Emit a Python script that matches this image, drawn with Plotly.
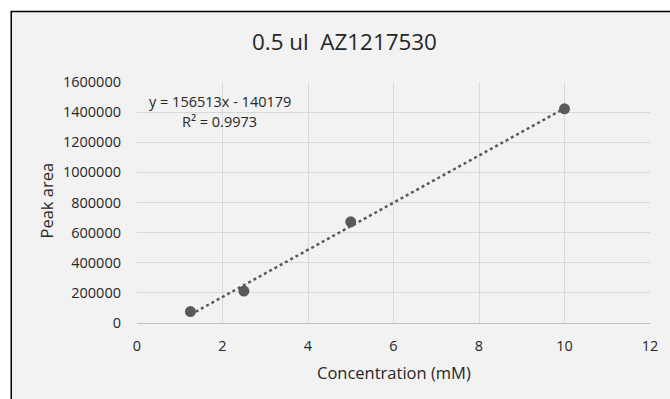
import plotly.graph_objects as go

# Data
conc = [1.25, 2.5, 5, 10]
peak_area = [76000, 212000, 672000, 1422000]
slope = 156513
intercept = -140179
r2 = 0.9973
x_ticks = [0, 2, 4, 6, 8, 10, 12]
y_ticks = [0, 200000, 400000, 600000, 800000, 1000000, 1200000, 1400000, 1600000]

FONT = "Open Sans"
TXT = "#262626"

L, R, T, B = 137, 17, 82, 76
W, H = 670, 399
pw = W - L - R
ph = H - T - B

def px(xp):
    return (xp - L) / pw

def py(yp):
    return (H - B - yp) / ph

trend_x = [min(conc), max(conc)]
trend_y = [slope * v + intercept for v in trend_x]

fig = go.Figure()
fig.add_trace(go.Scatter(x=trend_x, y=trend_y, mode="lines",
                         line=dict(color="#595959", width=2.5, dash="dot"),
                         hoverinfo="skip", showlegend=False))
fig.add_trace(go.Scatter(x=conc, y=peak_area, mode="markers",
                         marker=dict(color="#595959", size=11),
                         showlegend=False))

fig.update_layout(
    width=W, height=H,
    margin=dict(l=L, r=R, t=T, b=B),
    paper_bgcolor="white",
    plot_bgcolor="rgba(0,0,0,0)",
    font=dict(family=FONT, color=TXT, size=14.5),
    showlegend=False,
    shapes=[dict(type="rect", xref="paper", yref="paper",
                 x0=px(10.5), x1=px(700), y0=py(420), y1=py(11.5),
                 fillcolor="#F2F2F2", line=dict(color="#000000", width=1.5),
                 layer="below")],
    annotations=[
        dict(text="0.5 ul  AZ1217530", xref="paper", yref="paper",
             x=px(346), y=py(42), showarrow=False,
             font=dict(size=22.4, color=TXT, family=FONT),
             xanchor="center", yanchor="middle"),
        dict(text="Concentration (mM)", xref="paper", yref="paper",
             x=0.5, y=py(372), showarrow=False,
             font=dict(size=16.5, color=TXT, family=FONT),
             xanchor="center", yanchor="middle"),
        dict(text="Peak area", xref="paper", yref="paper",
             x=px(45), y=py(201), showarrow=False, textangle=-90,
             font=dict(size=16.5, color=TXT, family=FONT),
             xanchor="center", yanchor="middle"),
        dict(text=f"y = {slope}x - {abs(intercept)}", xref="paper", yref="paper",
             x=px(220), y=py(101), showarrow=False,
             font=dict(size=14.5, color=TXT, family=FONT),
             xanchor="center", yanchor="middle"),
        dict(text=f"R² = {r2}", xref="paper", yref="paper",
             x=px(220), y=py(121), showarrow=False,
             font=dict(size=14.5, color=TXT, family=FONT),
             xanchor="center", yanchor="middle"),
    ],
)

fig.update_xaxes(range=[0, 12], tickvals=x_ticks, ticktext=[str(v) for v in x_ticks],
                 showgrid=True, gridcolor="#D9D9D9", gridwidth=1,
                 zeroline=False, showline=True, linecolor="#BFBFBF", linewidth=1,
                 ticks="", ticklabelstandoff=10, tickfont=dict(size=14.5, color=TXT),
                 fixedrange=True)
fig.update_yaxes(range=[0, 1600000], tickvals=y_ticks, ticktext=[str(v) for v in y_ticks],
                 showgrid=True, gridcolor="#D9D9D9", gridwidth=1,
                 zeroline=False, showline=False,
                 ticks="", ticklabelstandoff=15, tickfont=dict(size=14.5, color=TXT),
                 fixedrange=True)

fig.write_html("out.html")
